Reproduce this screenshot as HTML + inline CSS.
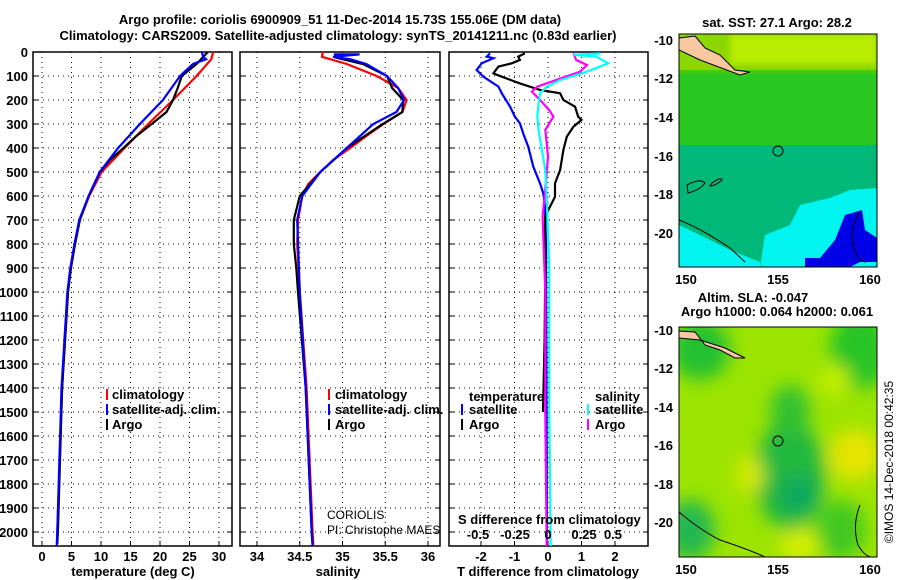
<!DOCTYPE html>
<html><head><meta charset="utf-8"><style>
html,body{margin:0;padding:0;background:#fff;width:900px;height:580px;overflow:hidden}
svg{display:block;font-family:"Liberation Sans",Arial,sans-serif}
.b{font-weight:bold;font-size:13px}
</style></head><body>
<svg id="c" width="900" height="580" viewBox="0 0 900 580">
<defs>
<clipPath id="cp1"><rect x="33" y="52" width="199" height="494"/></clipPath>
<clipPath id="cp2"><rect x="240" y="52" width="200" height="494"/></clipPath>
<clipPath id="cp3"><rect x="449" y="52" width="199" height="494"/></clipPath>
<clipPath id="m1"><rect x="679" y="34" width="198" height="233"/></clipPath>
<clipPath id="m2"><rect x="679" y="327" width="198" height="230"/></clipPath>
<filter id="bl" x="-50%" y="-50%" width="200%" height="200%"><feGaussianBlur stdDeviation="9"/></filter>
<filter id="bl2"><feGaussianBlur stdDeviation="3"/></filter>
</defs>
<text class="b" x="340" y="24" text-anchor="middle">Argo profile: coriolis 6900909_51 11-Dec-2014 15.73S 155.06E (DM data)</text>
<text class="b" x="338" y="40" text-anchor="middle">Climatology: CARS2009. Satellite-adjusted climatology: synTS_20141211.nc (0.83d earlier)</text>

<g id="grid"></g>
<g id="marks"></g>

<!-- legends -->
<g class="b">
<rect x="106" y="389" width="2" height="11" fill="#f00"/><text x="112" y="399">climatology</text>
<rect x="106" y="404" width="2" height="11" fill="#00f"/><text x="112" y="414">satellite-adj. clim.</text>
<rect x="106" y="419" width="2" height="11" fill="#000"/><text x="112" y="429">Argo</text>
</g>
<g class="b">
<rect x="328" y="389" width="2" height="11" fill="#f00"/><text x="335" y="399">climatology</text>
<rect x="328" y="404" width="2" height="11" fill="#00f"/><text x="335" y="414">satellite-adj. clim.</text>
<rect x="328" y="419" width="2" height="11" fill="#000"/><text x="335" y="429">Argo</text>
</g>
<g class="b">
<text x="469" y="401">temperature</text>
<rect x="461" y="404" width="2" height="11" fill="#00f"/><text x="469" y="414">satellite</text>
<rect x="461" y="419" width="2" height="11" fill="#000"/><text x="469" y="429">Argo</text>
<text x="595" y="401">salinity</text>
<rect x="587" y="404" width="2" height="11" fill="#0ff"/><text x="595" y="414">satellite</text>
<rect x="587" y="419" width="2" height="11" fill="#f0f"/><text x="595" y="429">Argo</text>
</g>
<text x="327" y="519" font-size="12">CORIOLIS</text>
<text x="327" y="534" font-size="12">PI: Christophe MAES</text>
<text class="b" x="458" y="524">S difference from climatology</text>
<g class="b">
<text x="478" y="539" text-anchor="middle">-0.5</text><text x="515" y="539" text-anchor="middle">-0.25</text><text x="548" y="539" text-anchor="middle">0</text><text x="584" y="539" text-anchor="middle">0.25</text><text x="613" y="539" text-anchor="middle">0.5</text>
</g>
<text class="b" x="133" y="576" text-anchor="middle">temperature (deg C)</text>
<text class="b" x="338" y="576" text-anchor="middle">salinity</text>
<text class="b" x="548" y="576" text-anchor="middle">T difference from climatology</text>

<!-- SST map -->
<g clip-path="url(#m1)">
<rect x="679" y="34" width="198" height="233" fill="#10c040"/>
<rect x="679" y="34" width="198" height="40" fill="#8ad800"/>
<rect x="730" y="34" width="147" height="30" fill="#b8ec00" filter="url(#bl2)"/>
<rect x="679" y="70" width="198" height="75" fill="#30c818" opacity="0.8"/>
<rect x="679" y="145" width="198" height="122" fill="#00b878"/>
<path d="M760 267 L765 235 L790 225 L800 205 L830 198 L850 190 L877 188 L877 267Z" fill="#00f4f0"/>
<path d="M679 225 L700 235 L730 250 L760 262 L760 267 L679 267Z" fill="#00f4f0"/>
<path d="M820 258 L835 240 L845 215 L862 210 L865 230 L877 238 L877 262 L860 262 L850 267 L805 267 L805 258Z" fill="#0000e6"/>
<path d="M679 38 L695 36 L705 48 L720 55 L735 70 L750 72 L740 75 L700 60 L679 50Z" fill="#f8c8a0" stroke="#000" stroke-width="1"/>
<path d="M860 212 Q850 225 853 245 Q858 262 866 262" fill="none" stroke="#000"/>
<path d="M679 220 Q700 228 730 248 L745 262" fill="none" stroke="#000"/>
<path d="M687 185 Q700 178 705 183 Q700 190 688 193Z M712 183 Q722 176 722 180 Q715 186 710 186Z" fill="none" stroke="#000"/>
<circle cx="778" cy="151" r="5" fill="none" stroke="#000"/>
</g>
<rect x="679" y="34" width="198" height="233" fill="none" stroke="#000"/>
<text class="b" x="777" y="27" text-anchor="middle">sat. SST: 27.1 Argo: 28.2</text>
<g class="b" text-anchor="end">
<text x="673" y="45">-10</text><text x="673" y="83">-12</text><text x="673" y="122">-14</text><text x="673" y="161">-16</text><text x="673" y="199">-18</text><text x="673" y="238">-20</text>
</g>
<g class="b" text-anchor="middle">
<text x="686" y="284">150</text><text x="778" y="284">155</text><text x="870" y="284">160</text>
</g>

<!-- SLA map -->
<g clip-path="url(#m2)">
<rect x="679" y="327" width="198" height="230" fill="#9ce400"/>
<g filter="url(#bl)">
<ellipse cx="700" cy="350" rx="30" ry="30" fill="#20c030"/>
<ellipse cx="860" cy="350" rx="30" ry="40" fill="#28c428"/>
<ellipse cx="790" cy="475" rx="35" ry="55" fill="#20b840"/>
<ellipse cx="790" cy="410" rx="20" ry="25" fill="#30c030"/>
<ellipse cx="800" cy="495" rx="20" ry="18" fill="#10a860"/>
<ellipse cx="855" cy="455" rx="25" ry="25" fill="#e8e400"/>
<ellipse cx="750" cy="475" rx="14" ry="18" fill="#d8ea00"/>
<ellipse cx="835" cy="380" rx="15" ry="15" fill="#c8f000"/>
<ellipse cx="690" cy="530" rx="25" ry="30" fill="#20b850"/>
<ellipse cx="840" cy="530" rx="25" ry="30" fill="#40c820"/>
<ellipse cx="800" cy="545" rx="20" ry="15" fill="#d8f000"/>
</g>
<path d="M679 331 L695 332 L705 345 L720 350 L735 358 L745 358 L725 348 L700 340 L679 338Z" fill="#f8c8a0" stroke="#000"/>
<path d="M679 512 Q700 530 720 540 Q750 550 765 557" fill="none" stroke="#000"/>
<path d="M860 505 Q852 525 858 545 Q865 557 872 557" fill="none" stroke="#000"/>
<circle cx="778" cy="441" r="5" fill="none" stroke="#000"/>
</g>
<rect x="679" y="327" width="198" height="230" fill="none" stroke="#000"/>
<text class="b" x="753" y="302" text-anchor="middle">Altim. SLA: -0.047</text>
<text class="b" x="777" y="316" text-anchor="middle">Argo h1000: 0.064 h2000: 0.061</text>
<g class="b" text-anchor="end">
<text x="673" y="335">-10</text><text x="673" y="373">-12</text><text x="673" y="412">-14</text><text x="673" y="450">-16</text><text x="673" y="489">-18</text><text x="673" y="527">-20</text>
</g>
<g class="b" text-anchor="middle">
<text x="686" y="574">150</text><text x="778" y="574">155</text><text x="870" y="574">160</text>
</g>
<text x="893" y="462" font-size="12" text-anchor="middle" transform="rotate(-90 893 462)">©IMOS 14-Dec-2018 00:42:35</text>
</svg>
<script>
// depth ticks
const depthTicks = [0,100,200,300,400,500,600,700,800,900,1000,1100,1200,1300,1400,1500,1600,1700,1800,1900,2000];
const tempTicks = [0,5,10,15,20,25,30];
const salTicks = [34,34.5,35,35.5,36];
const salTickLabels = ["34","34.5","35","35.5","36"];
const diffTicks = [-2,-1,0,1,2];
// temperature profiles
const tClimDepth = [0,30,100,200,300,400,500,600,700,800,900,1000,1400,2000,2060];
const tClimVal = [29.0,28.7,26.2,22.2,18.0,14.0,10.1,8.0,6.4,5.6,4.9,4.4,3.4,2.6,2.5];
const tSatDepth = [0,20,30,50,100,200,300,400,500,600,700,800,900,1000,1400,2000,2060];
const tSatVal = [27.1,27.3,27.8,25.6,23.4,20.5,16.6,12.9,9.8,7.9,6.3,5.5,4.8,4.3,3.3,2.6,2.5];
const tArgoDepth = [0,50,100,150,200,250,300,350,400,450,500,600,700,800,900,1000,1400,2000,2050];
const tArgoVal = [28.1,26.2,23.7,23.0,22.2,21.1,18.6,16.0,13.8,11.5,9.8,7.9,6.4,5.6,4.9,4.4,3.4,2.7,2.6];
// salinity profiles
const sClimDepth = [0,20,50,100,150,200,250,300,350,400,450,500,550,600,700,800,1000,1400,2000,2060];
const sClimVal = [34.77,34.76,35.05,35.40,35.65,35.75,35.70,35.48,35.28,35.09,34.89,34.74,34.60,34.53,34.48,34.47,34.50,34.58,34.65,34.66];
const sSatDepth = [10,10,20,30,50,100,150,200,250,300,400,500,600,700,1000,1400,2000,2060];
const sSatVal = [34.90,35.20,34.89,35.09,35.28,35.52,35.65,35.72,35.63,35.36,35.05,34.74,34.53,34.47,34.50,34.57,34.64,34.65];
const sArgoDepth = [20,30,50,100,150,200,250,300,400,500,600,700,800,900,1000,1400,2000,2050];
const sArgoVal = [34.89,35.00,35.24,35.52,35.58,35.71,35.70,35.47,35.05,34.74,34.50,34.43,34.43,34.46,34.48,34.57,34.64,34.65];
// difference profiles
const dTSatDepth = [6,19,26,47,75,103,144,172,228,269,297,339,394,478,547,589,644,800,1200,1600,2060];
const dTSatVal = [-1.73,-1.83,-1.63,-1.98,-2.13,-1.93,-1.48,-1.38,-1.13,-0.99,-0.84,-0.74,-0.59,-0.44,-0.24,-0.14,-0.09,-0.06,-0.05,-0.04,-0.03];
const dTArgoDepth = [6,19,33,47,61,89,103,131,158,172,200,228,269,283,311,353,408,492,547,603,686,900,1200,1500];
const dTArgoVal = [-0.69,-0.89,-0.84,-1.08,-1.48,-1.63,-1.38,-0.84,-0.24,0.36,0.46,0.81,0.90,1.00,0.76,0.56,0.46,0.36,0.21,0.21,-0.09,-0.08,-0.1,-0.15];
const dSSatDepth = [6,12,19,47,82,117,144,172,214,269,325,394,492,603,900,1500,2060];
const dSSatVal = [0.39,0.19,0.36,0.45,0.29,0.09,-0.01,-0.06,-0.07,-0.08,-0.07,-0.05,-0.02,-0.01,0.01,0.01,0.02];
const dSArgoDepth = [6,33,54,82,117,144,165,200,242,269,297,325,381,436,575,686,1000,1500,2060];
const dSArgoVal = [0.19,0.21,0.29,0.24,0.06,-0.08,-0.12,-0.06,0.01,0.04,0.01,-0.02,-0.01,0,-0.02,-0.04,-0.02,-0.02,-0.01];

const NS='http://www.w3.org/2000/svg';
const Y0=52, PY=0.24, YB=546;
const yD = d => Y0 + PY*d;
const xT = t => 42 + 5.9*t;
const xS = s => 257 + 85.5*(s-34);
const xDT = t => 548 + 33.5*t;
const xDS = s => 548 + 134*s;
const grid=document.getElementById('grid'), marks=document.getElementById('marks');
function mk(tag,attrs,parent){const e=document.createElementNS(NS,tag);for(const k in attrs)e.setAttribute(k,attrs[k]);parent.appendChild(e);return e;}
const panels=[{x0:33,x1:232,cp:'cp1',ticks:tempTicks,labels:tempTicks.map(String),fx:xT,name:'temperature'},
 {x0:240,x1:440,cp:'cp2',ticks:salTicks,labels:salTickLabels,fx:xS,name:'salinity'},
 {x0:449,x1:648,cp:'cp3',ticks:diffTicks,labels:diffTicks.map(String),fx:xDT,name:'difference'}];
panels.forEach((p,i)=>{
  const g=mk('g',{},grid);
  
  
  depthTicks.forEach(d=>{
    mk('line',{x1:p.x0,x2:p.x1,y1:yD(d),y2:yD(d),stroke:'#000','stroke-width':1,'stroke-dasharray':'1,4'},g);
    mk('line',{x1:p.x0,x2:p.x0+5,y1:yD(d),y2:yD(d),stroke:'#000'},g);
    mk('line',{x1:p.x1-5,x2:p.x1,y1:yD(d),y2:yD(d),stroke:'#000'},g);
  });
  p.ticks.forEach((t,j)=>{
    const x=p.fx(t);
    mk('line',{x1:x,x2:x,y1:Y0,y2:YB,stroke:'#000','stroke-dasharray':'1,4'},g);
    mk('line',{x1:x,x2:x,y1:YB-5,y2:YB,stroke:'#000'},g);
    const tx=mk('text',{x:x,y:561,'text-anchor':'middle','class':'b'},g);
    tx.textContent=p.labels[j];
  });
  const fr=mk('rect',{x:p.x0,y:Y0,width:p.x1-p.x0,height:YB-Y0,fill:'none',stroke:'#000','stroke-width':1.5},g);
  
  
});
depthTicks.forEach(d=>{
  const t=mk('text',{x:28,y:yD(d)+5,'text-anchor':'end','class':'b'},grid);
  
  
  t.textContent=String(d);
});
function line(ds,vs,fx,color,cp,name){
  const pts=ds.map((d,i)=>fx(vs[i]).toFixed(1)+','+yD(d).toFixed(1)).join(' ');
  const pl=mk('polyline',{points:pts,fill:'none',stroke:color,'stroke-width':2.2,'clip-path':'url(#'+cp+')'},marks);
  
  
}
line(tClimDepth,tClimVal,xT,'#f00','cp1','temp-climatology-line');
line(tArgoDepth,tArgoVal,xT,'#000','cp1','temp-argo-line');
line(tSatDepth,tSatVal,xT,'#00f','cp1','temp-satellite-line');
line(sClimDepth,sClimVal,xS,'#f00','cp2','salinity-climatology-line');
line(sArgoDepth,sArgoVal,xS,'#000','cp2','salinity-argo-line');
line(sSatDepth,sSatVal,xS,'#00f','cp2','salinity-satellite-line');
line(dTSatDepth,dTSatVal,xDT,'#00f','cp3','t-diff-satellite-line');
line(dTArgoDepth,dTArgoVal,xDT,'#000','cp3','t-diff-argo-line');
line(dSArgoDepth,dSArgoVal,xDS,'#f0f','cp3','s-diff-argo-line');
line(dSSatDepth,dSSatVal,xDS,'#0ff','cp3','s-diff-satellite-line');
</script>
</body></html>
